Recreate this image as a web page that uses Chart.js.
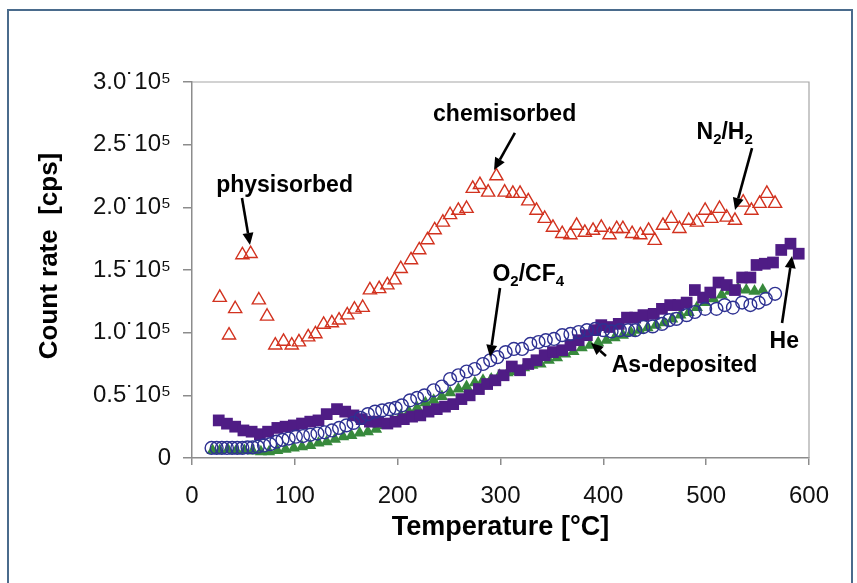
<!DOCTYPE html>
<html><head><meta charset="utf-8">
<script src="https://cdn.jsdelivr.net/npm/chart.js@4.4.1/dist/chart.umd.min.js"></script>
<style>
html,body{margin:0;padding:0;background:#fff;overflow:hidden;width:857px;height:583px;}
#frame{position:absolute;left:7px;top:9px;width:846px;height:700px;border:2px solid #4a6b8c;box-sizing:border-box;}
canvas{position:absolute;left:0;top:0;}
</style></head>
<body>
<div id="frame"></div>
<canvas id="c" width="857" height="583"></canvas>
<script>
// ---- Data (temperature in °C, count rate in cps) ----
const tempN2H2 = [27,36,42,49,57,65,73,81,89,97,104,113,120,128,136,143,151,158,166,173,182,190,197,203,213,221,229,236,244,251,259,267,273,280,288,296,304,312,319,327,335,343,351,360,368,374,382,390,398,406,413,419,428,436,444,450,458,466,474,483,491,499,505,513,520,528,536,544,552,559,567];
const countN2H2 = [128000,98000,119000,162000,163000,126000,113000,90000,93000,90000,92500,96500,99000,106600,107700,110000,114000,118600,120000,134000,135000,138000,142000,151000,158000,166000,174000,182000,188000,194000,197500,199000,215000,218000,212000,225000,212000,211000,211000,205000,197500,191000,184000,179000,178000,185500,180000,181500,184000,178000,183000,183000,179000,178000,181500,173500,185500,191000,183000,189500,188000,197500,191000,199000,192000,189500,204000,197500,203000,211000,203000];

const tempO2CF4 = [19,24,29,34,39,44,49,54,59,64,70,76,82,88,94,101,108,115,122,129,136,143,150,157,164,171,178,185,192,198,204,212,219,226,235,243,251,259,267,275,283,290,297,305,313,321,329,337,344,352,360,368,376,384,392,400,408,416,424,431,439,448,457,464,471,481,489,499,510,518,526,535,543,551,558,567];
const countO2CF4 = [8000,8000,8000,8000,8000,8000,8000,8500,8500,9000,10000,11000,13000,14500,15500,17000,17500,18500,19500,20500,22000,24000,26000,28000,32000,35000,37000,38000,39000,40000,42000,46000,48000,50000,54000,57000,63000,66000,69000,71000,75000,78000,80500,84500,87000,87000,91000,92500,94000,95000,98000,99000,100500,102000,103000,102000,101000,102000,102000,102000,104500,105000,107000,110000,111000,114000,116500,119000,119000,122000,120000,124000,122000,124000,127000,131000];

const tempHe = [26,34,42,50,58,66,74,83,91,99,107,115,123,131,141,149,157,165,173,181,190,198,206,214,222,230,238,246,254,262,270,279,287,295,303,311,319,327,335,343,351,360,368,376,384,392,398,406,415,423,431,439,449,457,465,473,481,489,497,504,512,520,528,535,543,549,557,565,573,582,590];
const countHe = [30000,27400,25000,22000,21000,19000,21000,24000,25000,26000,27500,29000,30000,35000,39000,37000,34000,31000,29000,29000,27500,29000,31000,33000,34000,37000,39000,41000,43000,47000,50000,55000,59000,62000,66000,73000,70000,75000,78000,82000,84500,86000,90000,94000,98000,102000,106000,104500,107000,112000,112000,114000,115000,119000,122000,122000,124000,134000,128000,132000,140000,138000,134000,144000,144000,154000,155000,156000,166000,171000,163000];

const tempAsDep = [20,27,35,43,51,59,67,75,83,91,99,107,115,123,131,139,147,155,163,171,179,187,195,203,211,219,227,235,243,251,259,267,275,283,291,299,307,315,323,331,339,347,355,363,371,379,387,395,403,411,419,427,435,443,451,459,467,475,483,491,499,507,515,523,531,539,547,555];
const countAsDep = [6000,6000,6500,6000,6000,5500,5000,5000,6000,7000,8000,9000,10000,12000,13000,15000,17000,18000,20000,21000,23000,26000,30000,34000,37000,40000,44000,46000,49000,52000,55000,57000,60000,62000,63000,66000,68000,69000,72000,74000,75000,78000,80000,83000,85000,88000,90000,92000,94000,96000,98000,100000,102000,104000,106000,108000,111000,114000,116000,120000,124000,127000,130000,133000,135000,134000,133000,134000];

const xTicks = [0,100,200,300,400,500,600];
const yTicks = [0,50000,100000,150000,200000,250000,300000];

const xTitle = 'Temperature [°C]';
const yTitle = 'Count rate  [cps]';

// annotation labels: text parts and anchor/arrow positions in data units
const annotations = [
  {parts:[['physisorbed']], tx:90, ty:218600, a:[48.6,207500,56.4,170000]},
  {parts:[['chemisorbed']], tx:304, ty:275300, a:[314,259400,293.7,229800]},
  {parts:[['N'],['2',1],['/H'],['2',1]], tx:518, ty:260900, a:[544.6,247300,528.1,197900]},
  {parts:[['O'],['2',1],['/CF'],['4',1]], tx:327, ty:147600, a:[299.5,135600,289.8,80600]},
  {parts:[['As-deposited']], tx:479, ty:75000, a:[402.6,81400,388,91800]},
  {parts:[['He']], tx:576, ty:94200, a:[573.8,107700,583.5,161200]}
];

const FONT = '"Liberation Sans", Arial, sans-serif';

function pts(xs, ys){ return xs.map((v,i)=>({x:v, y:ys[i]})); }

function drawRich(ctx, parts, cx, cy, size){
  const big = 'bold ' + size + 'px ' + FONT;
  const small = 'bold ' + Math.round(size*0.65) + 'px ' + FONT;
  let total = 0;
  const w = parts.map(p => { ctx.font = p[1] ? small : big; const m = ctx.measureText(p[0]).width; total += m; return m; });
  let x = cx - total/2;
  const base = cy + size*0.358;
  ctx.textBaseline = 'alphabetic';
  ctx.textAlign = 'left';
  parts.forEach((p,i) => {
    ctx.font = p[1] ? small : big;
    ctx.fillText(p[0], x, p[1] ? base + size*0.22 : base);
    x += w[i];
  });
}

function drawArrow(ctx, x0, y0, x1, y1){
  const ang = Math.atan2(y1-y0, x1-x0);
  const hl = 12, hw = 5.5;
  const bx = x1 - hl*Math.cos(ang), by = y1 - hl*Math.sin(ang);
  ctx.lineWidth = 2.6;
  ctx.beginPath(); ctx.moveTo(x0,y0); ctx.lineTo(bx,by); ctx.stroke();
  ctx.beginPath();
  ctx.moveTo(x1,y1);
  ctx.lineTo(bx + hw*Math.sin(ang), by - hw*Math.cos(ang));
  ctx.lineTo(bx - hw*Math.sin(ang), by + hw*Math.cos(ang));
  ctx.closePath(); ctx.fill();
}

const decorPlugin = {
  id:'decor',
  beforeDatasetsDraw(chart){
    const {ctx, chartArea:a} = chart;
    ctx.save();
    ctx.strokeStyle = '#a6a6a6'; ctx.lineWidth = 1.2;
    ctx.beginPath();
    ctx.moveTo(a.left, a.top); ctx.lineTo(a.right, a.top); ctx.lineTo(a.right, a.bottom);
    ctx.stroke();
    // y-axis title (drawn slightly above the plot centre, as in the original)
    ctx.translate(50, (a.top + a.bottom)/2 - 14);
    ctx.rotate(-Math.PI/2);
    ctx.fillStyle = '#000';
    ctx.font = 'bold 26px ' + FONT;
    ctx.textAlign = 'center';
    ctx.textBaseline = 'middle';
    ctx.fillText(yTitle, 0, 0);
    ctx.restore();
  },
  afterDatasetsDraw(chart){
    const {ctx, scales:{x, y}} = chart;
    ctx.save();
    ctx.fillStyle = '#000'; ctx.strokeStyle = '#000';
    annotations.forEach(an => {
      drawRich(ctx, an.parts, x.getPixelForValue(an.tx), y.getPixelForValue(an.ty), 23);
      drawArrow(ctx, x.getPixelForValue(an.a[0]), y.getPixelForValue(an.a[1]), x.getPixelForValue(an.a[2]), y.getPixelForValue(an.a[3]));
    });
    ctx.restore();
  }
};

new Chart(document.getElementById('c'), {
  type:'scatter',
  data:{ datasets:[
    {label:'N2/H2', data:pts(tempN2H2,countN2H2), pointStyle:'triangle', pointRadius:7.6, pointBorderColor:'#d2321f', pointBackgroundColor:'rgba(255,255,255,0)', pointBorderWidth:1.4},
    {label:'O2/CF4', data:pts(tempO2CF4,countO2CF4), pointStyle:'circle', pointRadius:6.4, pointBorderColor:'#2e3192', pointBackgroundColor:'rgba(255,255,255,0)', pointBorderWidth:1.4},
    {label:'He', data:pts(tempHe,countHe), pointStyle:'rect', pointRadius:8.3, pointBorderColor:'#4f1c85', pointBackgroundColor:'#4f1c85', pointBorderWidth:0},
    {label:'As-deposited', data:pts(tempAsDep,countAsDep), pointStyle:'triangle', pointRadius:7, pointBorderColor:'#37893c', pointBackgroundColor:'#37893c', pointBorderWidth:0}
  ]},
  options:{
    responsive:false, animation:false, devicePixelRatio:1,
    layout:{padding:{left:0, top:82, right:48, bottom:0}},
    plugins:{legend:{display:false}, tooltip:{enabled:false}},
    scales:{
      x:{
        type:'linear', min:0, max:600,
        afterFit(s){ s.height = 125; },
        afterBuildTicks(s){ s.ticks = xTicks.map(v=>({value:v})); },
        ticks:{font:{family:FONT, size:24}, color:'#111', padding:17, maxRotation:0, autoSkip:false},
        grid:{drawOnChartArea:false, tickLength:7, color:'#8c8c8c', lineWidth:1.5},
        border:{color:'#8c8c8c', width:1.5},
        title:{display:true, text:xTitle, color:'#000', font:{family:FONT, size:27, weight:'bold'}, padding:{top:0, bottom:39}}
      },
      y:{
        type:'linear', min:0, max:300000,
        afterFit(s){ s.width = 192; },
        afterBuildTicks(s){ s.ticks = yTicks.map(v=>({value:v})); },
        ticks:{font:{family:FONT, size:24}, color:'#111', padding:12, autoSkip:false,
          callback:(v)=> v === 0 ? '0' : (v/100000).toFixed(1) + '˙10⁵'},
        grid:{drawOnChartArea:false, tickLength:9, color:'#8c8c8c', lineWidth:1.5},
        border:{color:'#8c8c8c', width:1.5},
        title:{display:false, text:yTitle}
      }
    }
  },
  plugins:[decorPlugin]
});
</script>
</body></html>
